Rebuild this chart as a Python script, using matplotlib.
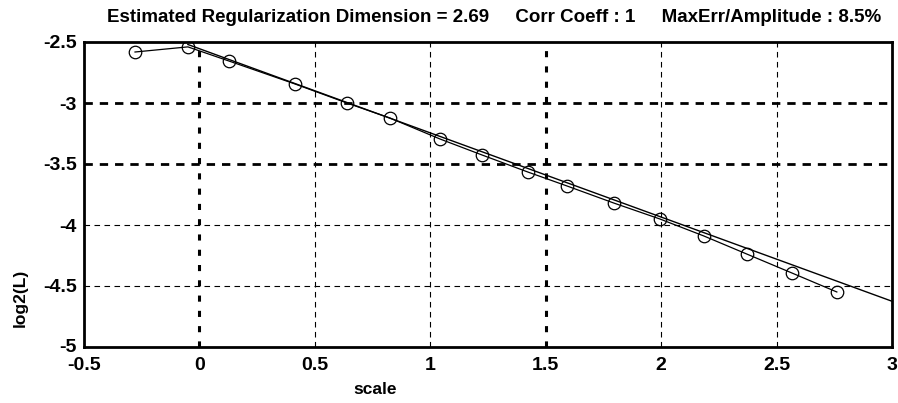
import numpy as np
from matplotlib import pyplot as plt
from matplotlib.transforms import ScaledTranslation

# values
scale = [-0.279, -0.05, 0.128, 0.414, 0.639, 0.825, 1.042, 1.224, 1.423,
         1.592, 1.795, 1.995, 2.185, 2.371, 2.566, 2.761]
log2L = [-2.582, -2.54, -2.656, -2.844, -3.0, -3.123, -3.295, -3.426, -3.566,
         -3.68, -3.82, -3.951, -4.09, -4.238, -4.393, -4.549]
fit_x = [-0.05, 3.0]
fit_slope = -0.69
fit_icpt = -2.555
xticks = [-0.5, 0, 0.5, 1, 1.5, 2, 2.5, 3]
yticks = [-2.5, -3, -3.5, -4, -4.5, -5]
xtick_labels = ['-0.5', '0', '0.5', '1', '1.5', '2', '2.5', '3']
ytick_labels = ['-2.5', '-3', '-3.5', '-4', '-4.5', '-5']
title = 'Estimated Regularization Dimension = 2.69     Corr Coeff : 1     MaxErr/Amplitude : 8.5%'

plt.rcParams['font.family'] = ['Liberation Sans', 'DejaVu Sans']

fig = plt.figure(figsize=(8.98, 4.03), dpi=100)
ax = fig.add_axes([84/898, 1-347/403, 808/898, 305/403])

# grid: some lines look heavier in the original screenshot
heavy_x = [0, 1.5]
heavy_y = [-3, -3.5]
for xv in xticks[1:-1]:
    if xv in heavy_x:
        ax.axvline(xv, color='k', lw=2.2, ls=(0, (2, 3)), zorder=1)
    else:
        ax.axvline(xv, color='k', lw=0.8, ls=(0, (5, 4)), zorder=1)
for yv in yticks[1:-1]:
    if yv in heavy_y:
        ax.axhline(yv, color='k', lw=2.0, ls=(0, (3, 2.5)), zorder=1)
    else:
        ax.axhline(yv, color='k', lw=0.8, ls=(0, (5, 4)), zorder=1)

fx = np.array(fit_x)
ax.plot(fx, fit_icpt + fit_slope * fx, color='k', lw=1.0, zorder=2)
ax.plot(scale, log2L, color='k', lw=0.9, marker='o', ms=9,
        mfc='none', mec='k', mew=0.9, zorder=3)

ax.set_xlim(-0.5, 3)
ax.set_ylim(-5, -2.5)
ax.set_xticks(xticks)
ax.set_xticklabels(xtick_labels, fontweight='bold')
ax.set_yticks(yticks)
ax.set_yticklabels(ytick_labels, fontweight='bold')
ax.tick_params(length=0, labelsize=14)
ax.tick_params(axis='x', pad=7)
ax.tick_params(axis='y', pad=5)
# the bottom y label sits a little above the axis line, as in the original
lab = ax.get_yticklabels()[-1]
lab.set_transform(lab.get_transform() + ScaledTranslation(0, 2/100, fig.dpi_scale_trans))
for s in ax.spines.values():
    s.set_linewidth(2)

fig.text(494/898, 1-18/403, title, ha='center', va='center', fontsize=13.5,
         fontweight='bold')
fig.text(375/898, 1-390/403, 'scale', ha='center', va='center', fontsize=12.5,
         fontweight='bold')
fig.text(20/898, 1-298/403, 'log2(L)', ha='center', va='center',
         fontsize=12.5, fontweight='bold', rotation=90)

fig.savefig('out.png', dpi=100)
